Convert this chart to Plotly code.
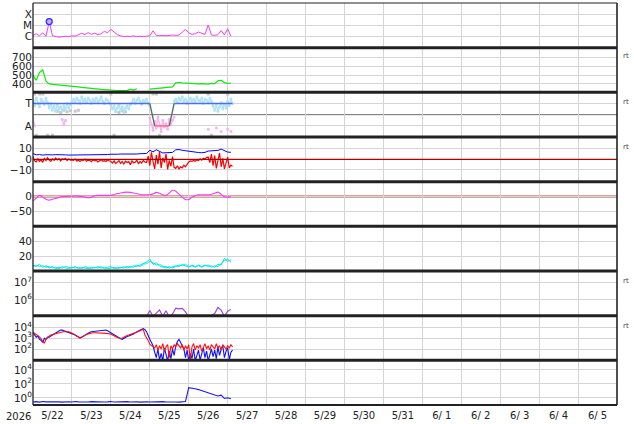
import pandas as pd
import plotly.graph_objects as go
from plotly.subplots import make_subplots

T0 = "2026-05-22 00:00"
t2 = pd.date_range(T0, periods=62, freq="2h")    # 2-hour samples
t1 = pd.date_range(T0, periods=124, freq="1h")   # 1-hour samples

# ---------------- data ----------------
xray_flux = [1.3e-6, 1.8e-6, 1.2e-6, 2.2e-6, 1.1e-6, 2.2e-5, 1.2e-6, 1.0e-6, 0.9e-6, 1.0e-6,
             1.1e-6, 1.0e-6, 1.2e-6, 1.1e-6, 1.4e-6, 2.0e-6, 1.5e-6, 2.3e-6, 1.6e-6, 2.1e-6,
             1.5e-6, 1.8e-6, 3.0e-6, 2.2e-6, 4.5e-6, 2.5e-6, 1.5e-6, 1.2e-6, 1.0e-6, 1.1e-6,
             1.0e-6, 1.2e-6, 1.0e-6, 1.1e-6, 1.0e-6, 1.1e-6, 1.2e-6, 3.3e-6, 1.3e-6, 1.2e-6,
             1.3e-6, 1.2e-6, 1.3e-6, 1.4e-6, 1.3e-6, 1.4e-6, 2.5e-6, 4.5e-6, 2.2e-6, 1.6e-6,
             1.8e-6, 2.6e-6, 2.0e-6, 1.6e-6, 1.1e-5, 1.4e-6, 1.3e-6, 1.5e-6, 3.5e-6, 1.4e-6,
             5.0e-6, 1.1e-6]

wind_speed = [500, 440, 530, 560, 430, 400, 395, 392, 390, 386, 383, 380, 377, 372, 366, 360,
              355, 350, 346, 343, 340, 337, 334, 330, 327, 326, 325, 325, 324, 323, 340, 330,
              345, None, None, None, 340, 344, 348, 352, 355, 358, 361, 365, 412, 416, 411, 408,
              406, 403, 401, 400, 404, 402, 398, 405, 402, 435, 440, 415, 405, 410]

sector_hours = [0, 72, 75, 84, 87, 123]
sector_vals = [1, 1, -1, -1, 1, 1]

toward_pts = ([1.3, 0.8, 1.5, 1.0, 0.7, 1.4, 1.2, 0.9, 1.5, 1.1,
               0.6, 1.0, 0.4, 0.8, 0.3, 0.9, 0.5, 0.7, 0.3, 0.8, 0.5, 1.0, 0.6, 0.9, 1.2,
               1.4, 1.1, 1.5, 1.3, 1.0, 1.6, 1.2, 1.4, 1.1, 1.5, 1.3, 1.0, 1.4, 1.2, 1.5, 1.1,
               1.3, 1.6, 1.2, 1.0, 1.4, 1.3, 1.1, 0.9,
               0.5, 0.8, 0.3, 0.6, 0.9, 0.4, 0.7, 0.2, 0.6, 0.8, 0.5, 0.9,
               1.1, 1.4, 1.0, 1.3, 1.5, 1.2, 0.9, 1.3, 1.1, 1.4, 1.0, 0.8]
              + [None] * 14 +
              [1.2, 1.4, 1.1, 1.5, 1.3, 1.6, 1.2, 1.4, 1.0, 1.3, 1.5, 1.2, 1.4, 1.1, 1.6, 1.3,
               1.2, 1.5, 1.0, 1.4, 1.3, 1.1, 1.5, 1.2,
               0.8, 0.4, 0.9, 0.3, 0.7, 1.1, 0.5, 0.9, 0.6, 1.2, 0.8, 1.4, 1.0])

away_pts = ([-0.3, -1.0] + [None] * 16 + [-0.4, -0.9, -0.5] + [None] * 51 +
            [-0.3, -0.9, -1.4, -0.6, -1.2, -0.2, -1.0, -1.5, -0.5, -1.1, -0.8, -1.3, -0.4, -0.9, -0.5, -0.2]
            + [None] * 20 + [-1.3] + [None] * 4 + [-1.2, None, None, -1.5, None, None, None,
                                                  -1.3, None, -1.5, None])

gray_hours = [1, 4, 6, 48, 74, 76, 108, 120, 15, 17, 19, 21, 23, 26, 28, 51, 53, 55, 57, 2, 9, 12, 50, 78, 110]
gray_vals = [1.85, 1.85, 1.85, 1.85, 1.85, 1.85, 1.85, 1.85, 0.3, 0.2, 0.4, 0.25, 0.35, 0.3, 0.4,
             0.3, 0.2, 0.35, 0.25, -1.85, -1.85, -1.85, -1.85, -1.85, -1.85]

bt = [5.5, 4.2, 4.5, 4.0, 4.3, 4.0, 4.2, 4.4, 4.5, 4.3, 4.2, 4.0, 4.0, 4.1, 4.0, 3.9, 4.0, 4.0,
      4.2, 4.0, 4.1, 4.0, 4.2, 4.5, 4.8, 4.6, 4.8, 5.0, 4.9, 5.0, 5.1, 5.2, 5.0, 5.3, 5.4, 5.5,
      8.5, 7.0, 9.0, 7.5, 6.0, 6.2, 6.0, 6.5, 9.0, 9.2, 8.5, 8.0, 7.6, 7.2, 6.8, 6.4, 6.2, 6.5,
      7.8, 8.0, 7.6, 8.4, 9.6, 7.8, 6.8, 6.6]

bz = [2.5, -1.5, -2.5, 0.5, -1.8, -0.5, -2.8, 0.8, -1.2, 1.5, -0.8, -2.0, 0.3, -1.0, 1.2, -0.5,
      0.8, -1.5, 0.5, -0.3, 1.0, -1.2, 0.2, -0.8,
      -0.5, -1.0, 0.3, -1.5, -0.8, -2.0, -0.5, -1.2, 0.2, -1.8, -0.7, -1.0, -2.2, -0.4, -1.5, -0.8,
      -2.5, -1.0, -0.3, -1.8, -1.2, -2.0, -0.6, -1.4,
      -2.0, -3.5, -1.5, -4.0, -2.5, -1.2, -3.8, -2.0, -4.5, -1.8, -3.0, -2.2, -5.0, -1.5, -3.2,
      -2.8, -0.8, -4.2, -2.0, -3.5, -1.0, -2.5, -3.0,
      3.0, -6.0, 6.5, -2.0, -9.0, 4.0, -4.5, 7.0, -8.0, 1.5, -3.0, 5.0, -9.5, -1.0, -6.5, 2.5,
      -7.5, -8.5, -6.0, -9.0, -7.0, -8.0, -5.5, -7.0, -4.0,
      -2.5, -1.5, -2.0, -1.0, -1.8, -0.5, -1.2, 0.5, -0.8, 1.0, 0.2, 1.8,
      2.0, -3.0, 5.0, -6.0, 3.5, -8.5, -2.0, 6.0, -7.0, 1.0, -9.0, -4.0, 2.0, -8.0, -5.5, -6.5]

dst = [-15, -5, 4, -2, -9, -12, -9, -6, -3, 0, 0, 1, 1, 2, 1, 0, -2, -4, -2, 3, 4, 4, 4, 4, 4,
       7, 10, 12, 14, 15, 14, 12, 10, 7, 6, 6, 6, 9, 14, 11, 6, 4, 12, 21, 18, 8, -2, -10, -10,
       -2, 3, 6, 6, 6, 6, 8, 11, 15, 8, -1, -2, -1]

cyan_a = [8, 6, 9, 5, 7, 4, 6, 3, 5, 4, 6, 5, 4, 6, 3, 5, 4, 3, 5, 4, 6, 4, 5, 3, 4, 5, 3, 5, 4,
          6, 5, 7, 6, 8, 10, 12, 16, 9, 11, 7, 5, 6, 4, 5, 7, 6, 9, 7, 5, 8, 6, 7, 5, 8, 6, 7, 5,
          9, 8, 17, 13, 15]
cyan_b = [6, 8, 6, 7, 5, 6, 4, 5, 3, 6, 4, 3, 5, 4, 5, 3, 6, 5, 3, 5, 4, 6, 3, 5, 6, 3, 5, 4, 6,
          4, 6, 5, 8, 6, 9, 10, 13, 11, 8, 9, 6, 4, 6, 4, 6, 8, 7, 9, 6, 7, 5, 8, 6, 7, 8, 5, 7, 6,
          10, 14, 16, 12]

electron_flux = [None] * 35 + [1.1e5, 2.4e5, 1.1e5, 1.8e5, 2.6e5, 1.1e5, 2.3e5, 1.0e5, 1.5e5,
                               3.3e5, 3.0e5, 3.2e5, 2.0e5, 1.0e5, None, None, None, None, None,
                               1.0e5, 1.3e5, 1.6e5, 3.6e5, 2.5e5, 1.1e5, 2.2e5, 2.8e5]

p8_blue_log = [3.5, 3.3, 3.1, 3.2, 2.9, 2.8, 2.6, 3.0, 2.9, 3.1, 3.1, 3.2, 3.3, 3.4, 3.5, 3.6,
               3.7, 3.75, 3.75, 3.7, 3.65, 3.6, 3.55, 3.5,
               3.45, 3.4, 3.3, 3.2, 3.1, 3.05, 3.1, 3.2, 3.3, 3.4, 3.5, 3.55, 3.6, 3.62, 3.65,
               3.68, 3.7, 3.72, 3.74, 3.76, 3.77, 3.76, 3.7, 3.6,
               3.5, 3.4, 3.35, 3.25, 3.1, 3.0, 2.95, 2.9, 3.0, 3.1, 3.15, 3.2, 3.25, 3.3, 3.4,
               3.5, 3.6, 3.67, 3.75, 3.82, 3.88, 3.8, 3.6, 3.2,
               2.9, 2.6, 2.3, 1.7, 1.2, 2.0, 1.0, 1.6, 0.9, 2.1, 1.3, 0.9, 1.8, 1.1, 2.0, 1.4,
               2.3, 2.7, 2.9, 2.6, 2.3, 2.0, 1.2, 1.9,
               0.9, 1.6, 1.1, 2.0, 0.9, 1.5, 1.9, 1.0, 1.7, 2.1, 1.2, 1.8, 0.9, 1.5, 2.0, 1.3,
               1.9, 1.1, 2.2, 1.4, 2.0, 2.3, 1.2, 1.8,
               2.1, 1.0, 1.7, 1.9]
p8_red_log = [3.55, 3.45, 3.35, 3.2, 3.12, 2.95, 2.7, 2.52, 2.9, 3.1, 3.2, 3.3, 3.35, 3.4, 3.45,
              3.48, 3.5, 3.55, 3.58, 3.6, 3.6, 3.62, 3.6, 3.55,
              3.5, 3.4, 3.3, 3.2, 3.1, 3.0, 3.1, 3.2, 3.3, 3.35, 3.4, 3.45, 3.48, 3.5, 3.5, 3.5,
              3.52, 3.5, 3.48, 3.47, 3.46, 3.45, 3.44, 3.42,
              3.38, 3.3, 3.2, 3.12, 3.06, 3.02, 3.0, 3.0, 3.1, 3.2, 3.25, 3.3, 3.33, 3.36, 3.45,
              3.5, 3.55, 3.6, 3.68, 3.78, 3.82, 3.3, 3.06, 2.8,
              2.45, 2.3, 2.2, 2.1, 2.4, 1.9, 2.3, 2.0, 2.5, 1.8, 2.2, 2.4, 1.2, 2.3, 2.0, 2.4,
              2.2, 2.5, 2.3, 2.1, 2.4, 1.9, 2.3, 2.0,
              2.4, 1.0, 2.2, 2.5, 1.9, 2.3, 2.1, 2.4, 1.8, 2.2, 2.5, 2.0, 2.3, 1.9, 2.4, 2.2,
              2.0, 2.5, 2.1, 2.3, 1.9, 2.4, 2.2, 2.0,
              2.3, 2.1, 2.4, 2.2]

p9_flux = [0.25, 0.28, 0.24, 0.3, 0.26, 0.27, 0.25, 0.32, 0.26, 0.24, 0.28, 0.27, 0.25, 0.3,
           0.26, 0.24, 0.27, 0.25, 0.28, 0.26, 0.24, 0.27, 0.25, 0.26, 0.3, 0.25, 0.27, 0.24,
           0.26, 0.28, 0.25, 0.27, 0.26, 0.24, 0.28, 0.26, 0.25, 0.27, 0.24, 0.26, 0.28, 0.25,
           0.27, 0.26, 0.25, 0.24, 0.27,
           0.3, 28, 25, 20, 15, 11, 8, 5.5, 3.8, 2.5, 1.8, 2.4, 0.8, 1.0, 0.75]

x_tick_dates = ["2026-05-22 12:00", "2026-05-23 12:00", "2026-05-24 12:00", "2026-05-25 12:00",
                "2026-05-26 12:00", "2026-05-27 12:00", "2026-05-28 12:00", "2026-05-29 12:00",
                "2026-05-30 12:00", "2026-05-31 12:00", "2026-06-01 12:00", "2026-06-02 12:00",
                "2026-06-03 12:00", "2026-06-04 12:00", "2026-06-05 12:00"]
x_tick_text = ["5/22", "5/23", "5/24", "5/25", "5/26", "5/27", "5/28", "5/29", "5/30", "5/31",
               "6/ 1", "6/ 2", "6/ 3", "6/ 4", "6/ 5"]
day_lines = ["2026-05-23", "2026-05-24", "2026-05-25", "2026-05-26", "2026-05-27", "2026-05-28",
             "2026-05-29", "2026-05-30", "2026-05-31", "2026-06-01", "2026-06-02", "2026-06-03",
             "2026-06-04", "2026-06-05"]

# ---------------- figure ----------------
FONT = "DejaVu Sans"
TXT = "#222222"
GRID = "#d4d4d4"
FS = 10

fig = make_subplots(rows=9, cols=1, shared_xaxes=True, vertical_spacing=0)


def add(tr, row):
    tr.showlegend = False
    tr.hoverinfo = "skip"
    fig.add_trace(tr, row=row, col=1)


# 1 X-ray
add(go.Scatter(x=t2, y=xray_flux, mode="lines", line=dict(color="#f23cf0", width=1)), 1)
imax = xray_flux.index(max(xray_flux))
add(go.Scatter(x=[t2[imax]], y=[xray_flux[imax]], mode="markers",
               marker=dict(size=6, color="#c8a8ff", line=dict(color="#3030ff", width=1.3))), 1)

# 2 solar wind speed
add(go.Scatter(x=t2, y=wind_speed, mode="lines", line=dict(color="#10e810", width=1.2),
               connectgaps=False), 2)

# 3 sector
add(go.Scatter(x=[pd.Timestamp(T0) + pd.Timedelta(hours=h) for h in gray_hours], y=gray_vals,
               mode="markers", marker=dict(size=3, color="#c8c8c8", symbol="square")), 3)
add(go.Scatter(x=t1, y=toward_pts, mode="lines+markers", line=dict(color="#aee4f8", width=1.4),
               marker=dict(size=3, color="#aee4f8"), connectgaps=False), 3)
add(go.Scatter(x=t1, y=away_pts, mode="lines+markers", line=dict(color="#f6b4f0", width=1.4),
               marker=dict(size=3, color="#f6b4f0"), connectgaps=False), 3)
for i in range(len(sector_hours) - 1):
    a, b = sector_vals[i], sector_vals[i + 1]
    col = "#5a6ae6" if (a == 1 and b == 1) else ("#ff5a70" if (a == -1 and b == -1) else "#4e6e5e")
    add(go.Scatter(x=[pd.Timestamp(T0) + pd.Timedelta(hours=sector_hours[i]),
                      pd.Timestamp(T0) + pd.Timedelta(hours=sector_hours[i + 1])],
                   y=[a, b], mode="lines", line=dict(color=col, width=1.3)), 3)

# 4 IMF
add(go.Scatter(x=t2, y=bt, mode="lines", line=dict(color="#0000ff", width=1)), 4)
add(go.Scatter(x=t1, y=bz, mode="lines", line=dict(color="#ff0000", width=1.2)), 4)

# 5 Dst
add(go.Scatter(x=t2, y=dst, mode="lines", line=dict(color="#f23cf0", width=1.1, shape="spline")), 5)

# 6 cyan
add(go.Scatter(x=t2, y=cyan_b, mode="lines", line=dict(color="#00f0f0", width=1)), 6)
add(go.Scatter(x=t2, y=cyan_a, mode="lines", line=dict(color="#00e4e4", width=1)), 6)

# 7 electrons
add(go.Scatter(x=t2, y=electron_flux, mode="lines", line=dict(color="#a040d8", width=1.1),
               connectgaps=False), 7)

# 8
add(go.Scatter(x=t1, y=[10 ** v for v in p8_blue_log], mode="lines",
               line=dict(color="#1010ff", width=1.1)), 8)
add(go.Scatter(x=t1, y=[10 ** v for v in p8_red_log], mode="lines",
               line=dict(color="#ff1010", width=1.1)), 8)

# 9
add(go.Scatter(x=t2, y=p9_flux, mode="lines", line=dict(color="#1a1aee", width=1.1)), 9)

# ---------------- axes ----------------
yax = {
    1: dict(type="log", range=[-6.98, -3.0], tickvals=[1e-6, 1e-5, 1e-4], ticktext=["C", "M", "X"]),
    2: dict(range=[304, 812], tickvals=[400, 500, 600, 700], ticktext=["400", "500", "600", "700"]),
    3: dict(range=[-2, 2], tickvals=[-1, 1], ticktext=["A", "T"]),
    4: dict(range=[-21, 21], tickvals=[-10, 0, 10], ticktext=["\u221210", "0", "10"]),
    5: dict(range=[-100, 50], tickvals=[-50, 0], ticktext=["\u221250", "0"]),
    6: dict(range=[0, 60], tickvals=[20, 40], ticktext=["20", "40"]),
    7: dict(type="log", range=[5.08, 7.68], tickvals=[1e6, 1e7],
            ticktext=["10<sup>6</sup>", "10<sup>7</sup>"]),
    8: dict(type="log", range=[0.95, 5.09], tickvals=[1e2, 1e3, 1e4],
            ticktext=["10<sup>2</sup>", "10<sup>3</sup>", "10<sup>4</sup>"]),
    9: dict(type="log", range=[-1.03, 5.37], tickvals=[1, 1e2, 1e4],
            ticktext=["10<sup>0</sup>", "10<sup>2</sup>", "10<sup>4</sup>"]),
}
for r, cfg in yax.items():
    fig.update_yaxes(row=r, col=1, tickmode="array", showgrid=True, gridcolor=GRID, gridwidth=1,
                     zeroline=False, showline=False, ticks="", fixedrange=True,
                     tickfont=dict(family=FONT, size=FS + 0.5, color=TXT), **cfg)

fig.update_xaxes(range=["2026-05-22 00:00", "2026-06-06 00:00"], type="date",
                 tickmode="array", tickvals=x_tick_dates, ticktext=x_tick_text,
                 showgrid=False, zeroline=False, showline=False, ticks="",
                 ticklabelstandoff=3,
                 minor=dict(tickmode="array", tickvals=day_lines, showgrid=True,
                            gridcolor=GRID, gridwidth=1, ticks=""),
                 tickfont=dict(family=FONT, size=FS, color=TXT))

# reference lines
fig.add_hline(y=0, row=3, col=1, line=dict(color="#6e6e6e", width=1), layer="below")
fig.add_hline(y=0, row=4, col=1, line=dict(color="#b00000", width=1.4), layer="above")
fig.add_hline(y=0, row=5, col=1, line=dict(color="#d08282", width=2.6), layer="below")
fig.add_hline(y=6, row=7, col=1, line=dict(color="#cc0000", width=1.2), layer="below")
fig.add_hline(y=7, row=7, col=1, line=dict(color="#cc0000", width=1.2), layer="below")
fig.add_hline(y=4, row=8, col=1, line=dict(color="#dd3030", width=1.5, dash="dash"), layer="above")

# panel separators and frame
shapes = list(fig.layout.shapes)
for k in range(1, 9):
    shapes.append(dict(type="line", xref="paper", yref="paper", x0=0, x1=1, y0=k / 9, y1=k / 9,
                       line=dict(color="#222222", width=3), layer="above"))
shapes.append(dict(type="line", xref="paper", yref="paper", x0=0, x1=1, y0=0, y1=0,
                   line=dict(color="#222222", width=2), layer="above"))
shapes.append(dict(type="line", xref="paper", yref="paper", x0=0, x1=1, y0=1, y1=1,
                   line=dict(color="#222222", width=1.2), layer="above"))
shapes.append(dict(type="line", xref="paper", yref="paper", x0=0, x1=0, y0=0, y1=1,
                   line=dict(color="#222222", width=1.3), layer="above"))
shapes.append(dict(type="line", xref="paper", yref="paper", x0=1, x1=1, y0=0, y1=1,
                   line=dict(color="#222222", width=1.6), layer="above"))
fig.layout.shapes = shapes

annotations = [dict(text="2026", xref="paper", yref="paper", x=-0.025, y=0, yanchor="top",
                    xanchor="center", yshift=-4, showarrow=False,
                    font=dict(family=FONT, size=FS, color=TXT))]
for ya, yv in [("y2", 700), ("y3", 1), ("y4", 10), ("y7", 7), ("y8", 4)]:
    annotations.append(dict(text="rt", xref="paper", yref=ya, x=1.0, y=yv, xanchor="left",
                            xshift=4, yshift=1.5, showarrow=False,
                            font=dict(family=FONT, size=7, color="#444444")))
fig.update_layout(annotations=annotations)

fig.update_layout(width=634, height=424, margin=dict(l=33, r=17, t=3, b=17),
                  paper_bgcolor="white", plot_bgcolor="white",
                  font=dict(family=FONT, size=FS, color=TXT))

fig.write_html("out.html", config={"displayModeBar": False},
               post_script="document.body.style.margin='0';document.body.style.padding='0';")
